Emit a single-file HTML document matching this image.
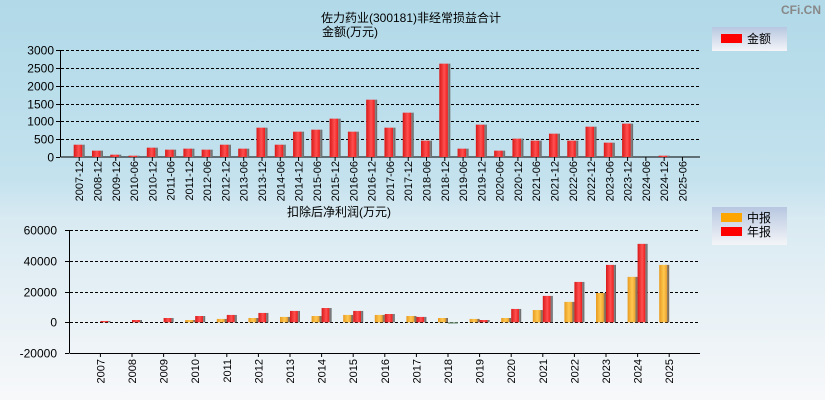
<!DOCTYPE html>
<html><head><meta charset="utf-8">
<style>
html,body{margin:0;padding:0;}
body{width:825px;height:400px;overflow:hidden;font-family:"Liberation Sans","Noto Sans CJK SC",sans-serif;}
svg text{font-family:"Liberation Sans","Noto Sans CJK SC",sans-serif;}
</style></head>
<body>
<svg id="c" width="825" height="400" xmlns="http://www.w3.org/2000/svg">
<defs>
<linearGradient id="bg" x1="0" y1="0" x2="0" y2="1">
<stop offset="0" stop-color="#b1d9e8"/><stop offset="0.45" stop-color="#c4e2ee"/><stop offset="0.55" stop-color="#d9eaf2"/><stop offset="1" stop-color="#f7f8fa"/>
</linearGradient>
<linearGradient id="red" x1="0" y1="0" x2="1" y2="0">
<stop offset="0" stop-color="#d81818"/><stop offset="0.45" stop-color="#ff5050"/><stop offset="0.75" stop-color="#ee2020"/><stop offset="0.8" stop-color="#888"/><stop offset="1" stop-color="#666"/>
</linearGradient>
<linearGradient id="org" x1="0" y1="0" x2="1" y2="0">
<stop offset="0" stop-color="#e89a20"/><stop offset="0.45" stop-color="#ffc850"/><stop offset="0.75" stop-color="#eea530"/><stop offset="0.8" stop-color="#998060"/><stop offset="1" stop-color="#776655"/>
</linearGradient>
<linearGradient id="leg" x1="0" y1="0" x2="0" y2="1">
<stop offset="0" stop-color="#b7c7e0"/><stop offset="1" stop-color="#f4f5f8"/>
</linearGradient>
</defs>
<rect width="825" height="400" fill="url(#bg)"/>
<text x="821" y="14" font-size="12" text-anchor="end" fill="#888" font-weight="bold">CFi.CN</text>
<text x="411" y="22" font-size="12" text-anchor="middle" fill="#000">佐力药业(300181)非经常损益合计</text>
<text x="350" y="36" font-size="12" text-anchor="middle" fill="#000">金额(万元)</text>
<text x="339" y="216" font-size="12" text-anchor="middle" fill="#000">扣除后净利润(万元)</text>
<g>
<rect x="712" y="27" width="75" height="24" fill="url(#leg)"/>
<rect x="721" y="34" width="21" height="9" fill="#f00"/>
<text x="747" y="43" font-size="12">金额</text>
</g>
<g>
<rect x="712" y="207" width="75" height="38" fill="url(#leg)"/>
<rect x="721" y="213" width="21" height="9" fill="#ffa500"/>
<text x="747" y="222" font-size="12">中报</text>
<rect x="721" y="227" width="21" height="9" fill="#f00"/>
<text x="747" y="236" font-size="12">年报</text>
</g>
<g id="top"></g>
<g id="bot"></g>
</svg>
<script>
const topCats=["2007-12","2008-12","2009-12","2010-06","2010-12","2011-06","2011-12","2012-06","2012-12","2013-06","2013-12","2014-06","2014-12","2015-06","2015-12","2016-06","2016-12","2017-06","2017-12","2018-06","2018-12","2019-06","2019-12","2020-06","2020-12","2021-06","2021-12","2022-06","2022-12","2023-06","2023-12","2024-06","2024-12","2025-06"];
const topValues=[345,178,65,37,262,206,234,206,345,234,822,345,710,766,1075,710,1607,822,1243,458,2617,234,907,178,514,458,654,458,850,402,935,0,37,0];
const topTicks=[0,500,1000,1500,2000,2500,3000];
const botCats=["2007","2008","2009","2010","2011","2012","2013","2014","2015","2016","2017","2018","2019","2020","2021","2022","2023","2024","2025"];
const interimValues=[0,0,0,1500,2200,2800,3500,4100,4800,4800,4100,2800,2200,2800,8000,13300,19100,29600,37400];
const annualValues=[870,1500,2800,4100,4800,6100,7400,9300,7400,5400,3500,-870,1500,8700,17200,26300,37400,51100,null];
const botTicks=[-20000,0,20000,40000,60000];

const NS="http://www.w3.org/2000/svg";
function mk(p,tag,a){const e=document.createElementNS(NS,tag);for(const k in a)e.setAttribute(k,a[k]);p.appendChild(e);return e;}

// top chart
const T=document.getElementById('top');
const tY=v=>157-v*(107/3000);
const tX=i=>79.2+i*18.28;
mk(T,'line',{x1:60.5,y1:50,x2:60.5,y2:157,stroke:'#000'});
mk(T,'line',{x1:60.5,y1:157,x2:700,y2:157,stroke:'#000'});
topTicks.forEach(v=>{
 const y=Math.round(tY(v))+0.5;
 if(v>0){const g=mk(T,'line',{x1:61,y1:y,x2:699,y2:y,stroke:'#000','stroke-dasharray':'3,2'});
 
 }
 mk(T,'line',{x1:56,y1:y,x2:60,y2:y,stroke:'#000'});
 const t=mk(T,'text',{x:54,y:y+4,'font-size':12,'text-anchor':'end'});t.textContent=v;
 
 
});
topCats.forEach((c,i)=>{
 const x=tX(i);
 mk(T,'line',{x1:x,y1:157,x2:x,y2:161,stroke:'#000'});
 const v=topValues[i];
 if(v>0){const r=mk(T,'rect',{x:x-5.5,y:tY(v),width:11,height:157-tY(v),fill:'url(#red)'});
 
 }
 const t=mk(T,'text',{x:0,y:0,'font-size':11,'text-anchor':'end',transform:`translate(${x+4},161) rotate(-90)`});t.textContent=c;
 
 
});

// bottom chart
const B=document.getElementById('bot');
const bY=v=>322.3-v*(30.7/20000);
const bX=i=>100.4+i*31.6;
mk(B,'line',{x1:69.5,y1:230,x2:69.5,y2:353,stroke:'#000'});
mk(B,'line',{x1:69.5,y1:353.5,x2:700,y2:353.5,stroke:'#000'});
botTicks.forEach(v=>{
 const y=Math.round(bY(v))+0.5;
 if(v>-20000){const g=mk(B,'line',{x1:70,y1:y,x2:699,y2:y,stroke:'#000','stroke-dasharray':'3,2'});
 
 }
 mk(B,'line',{x1:65,y1:y,x2:69,y2:y,stroke:'#000'});
 const t=mk(B,'text',{x:57,y:y+4,'font-size':12,'text-anchor':'end'});t.textContent=v;
 
 
});
const z=bY(0);
botCats.forEach((c,i)=>{
 const x=bX(i);
 mk(B,'line',{x1:x,y1:353,x2:x,y2:357,stroke:'#000'});
 const iv=interimValues[i];
 if(iv){const y=bY(iv);const r=mk(B,'rect',{x:x-10,y:Math.min(y,z),width:10,height:Math.abs(z-y),fill:'url(#org)'});
 
 }
 const av=annualValues[i];
 if(av!==null&&av!==0){const y=bY(av);const r=mk(B,'rect',{x:x,y:Math.min(y,z),width:10,height:Math.abs(z-y),fill:av<0?'#7a9a80':'url(#red)'});
 
 }
 const t=mk(B,'text',{x:0,y:0,'font-size':11,'text-anchor':'end',transform:`translate(${x+4},359) rotate(-90)`});t.textContent=c;
 
 
});
</script>
</body></html>
